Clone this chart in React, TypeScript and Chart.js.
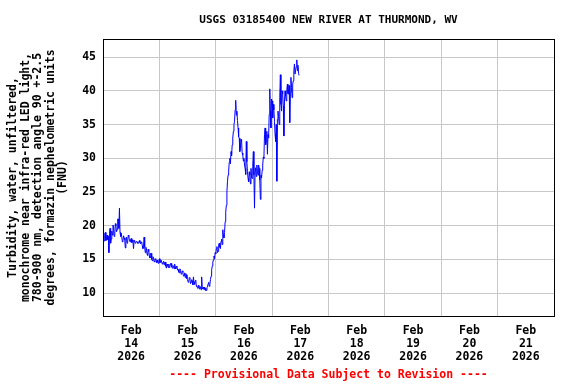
import React, { useEffect, useRef } from 'react';
import { Chart, registerables } from 'chart.js';

Chart.register(...registerables);

const TITLE = 'USGS 03185400 NEW RIVER AT THURMOND, WV';
const FOOTER = '---- Provisional Data Subject to Revision ----';
const Y_TITLE = [
  'Turbidity, water, unfiltered,',
  'monochrome near infra-red LED light,',
  '780-900 nm, detection angle 90 +-2.5',
  'degrees, formazin nephelometric units',
  '(FNU)',
];
const MONTH = 'Feb';
const YEAR = '2026';
const DAYS = ['14', '15', '16', '17', '18', '19', '20', '21'];
const Y_TICKS = [10, 15, 20, 25, 30, 35, 40, 45];
const STEP_HOURS = 0.25; // readings every 15 minutes from Feb 14 00:00

const TURBIDITY = [
  18.5, 17.6, 17.8, 18.9, 19.0, 17.8, 18.2, 18.6, 17.9, 18.4, 16.0, 18.8,
  19.6, 17.4, 18.0, 19.2, 18.6, 20.1, 19.8, 18.4, 18.6, 20.3, 20.0, 19.1,
  19.4, 21.0, 21.0, 19.6, 22.6, 19.0, 18.4, 18.9, 18.9, 17.6, 17.8, 18.5,
  18.2, 17.9, 16.7, 18.1, 18.3, 17.4, 17.7, 18.6, 18.4, 17.9, 17.6, 18.0,
  18.1, 17.5, 17.9, 17.6, 16.6, 17.8, 17.7, 17.4, 17.5, 17.7, 17.6, 17.4,
  17.4, 17.6, 17.8, 17.5, 17.3, 17.6, 17.5, 17.0, 16.6, 16.9, 18.3, 16.8,
  16.0, 16.8, 16.6, 15.8, 15.6, 16.5, 16.2, 15.5, 15.2, 15.9, 15.9, 15.0,
  14.8, 15.4, 15.3, 14.7, 14.6, 15.1, 15.0, 14.5, 14.9, 14.6, 14.4, 14.8,
  15.1, 14.5, 14.6, 14.9, 14.9, 14.3, 14.5, 14.7, 14.2, 14.6, 14.6, 14.0,
  13.7, 14.3, 14.1, 13.8, 14.3, 13.8, 13.9, 14.4, 14.4, 13.9, 13.7, 14.1,
  14.0, 13.6, 14.3, 13.9, 13.6, 14.0, 13.9, 13.4, 13.5, 13.1, 13.0, 13.6,
  13.4, 12.8, 12.9, 13.3, 13.1, 12.5, 12.6, 13.0, 12.3, 12.9, 12.7, 12.1,
  12.0, 11.6, 11.7, 12.3, 12.2, 11.4, 11.6, 12.0, 11.8, 11.2, 12.4, 11.6,
  11.3, 11.8, 11.9, 11.0, 11.1, 10.7, 10.8, 11.2, 10.6, 11.0, 10.9, 10.5,
  12.4, 10.8, 10.6, 10.9, 10.5, 10.9, 10.7, 10.4, 10.4, 10.8, 10.9, 11.4,
  11.6, 11.0, 11.3, 12.0, 12.5, 13.4, 14.0, 14.6, 14.9, 15.5, 15.1, 16.0,
  15.8, 16.6, 16.9, 16.0, 16.2, 17.2, 17.4, 16.8, 16.6, 17.7, 18.0, 17.2,
  19.4, 18.6, 18.2, 19.0, 20.6, 22.0, 23.0, 25.0, 26.6, 27.5, 28.1, 29.4,
  30.0, 29.2, 31.0, 30.4, 32.0, 33.0, 34.0, 35.0, 35.5, 37.2, 38.6, 36.4,
  37.0, 35.6, 34.5, 33.2, 33.0, 31.0, 31.5, 32.8, 32.5, 30.8, 30.5, 29.6,
  30.0, 29.0, 28.5, 27.6, 32.5, 29.5, 28.0, 27.0, 26.5, 28.0, 27.5, 26.2,
  28.5, 27.2, 27.0, 28.8, 31.0, 27.5, 22.6, 28.0, 28.6, 27.3, 29.0, 28.0,
  27.5, 29.0, 28.5, 26.8, 23.9, 27.5, 27.1, 28.2, 29.0, 30.2, 30.0, 33.5,
  34.5, 32.0, 32.5, 34.0, 30.6, 33.5, 33.0, 36.5, 40.3, 37.0, 34.5, 38.8,
  38.5, 36.0, 38.0, 37.2, 35.5, 33.6, 32.5, 35.0, 26.6, 35.8, 37.0, 36.2,
  35.0, 39.0, 42.4, 38.0, 37.0, 40.0, 39.5, 37.8, 33.3, 38.5, 40.0, 39.2,
  38.5, 40.2, 41.0, 39.6, 39.5, 40.8, 35.3, 39.8, 42.0, 40.5, 39.0, 41.0,
  41.5, 43.0, 44.0, 42.5, 42.5, 43.6, 44.6, 43.0, 43.8, 42.6, 42.3,
];

const FONT_FAMILY = '"DejaVu Sans Mono", "Liberation Mono", monospace';

const framePlugin = {
  id: 'usgsFrame',
  afterDraw(chart: any) {
    const { ctx, chartArea: a } = chart;
    ctx.save();
    ctx.strokeStyle = '#000000';
    ctx.lineWidth = 1;
    ctx.strokeRect(
      Math.round(a.left) + 0.5,
      Math.round(a.top) + 0.5,
      Math.round(a.right) - Math.round(a.left),
      Math.round(a.bottom) - Math.round(a.top)
    );
    const cx = (a.left + a.right) / 2;
    ctx.textAlign = 'center';
    ctx.textBaseline = 'middle';
    ctx.fillStyle = '#000000';
    ctx.font = `bold 11px ${FONT_FAMILY}`;
    ctx.fillText(TITLE, cx, 20);
    ctx.fillStyle = '#ff0000';
    ctx.font = `bold 11.5px ${FONT_FAMILY}`;
    ctx.fillText(FOOTER, cx, 375);
    ctx.restore();
  },
};

export default function App() {
  const ref = useRef<HTMLCanvasElement | null>(null);

  useEffect(() => {
    document.body.style.margin = '0';
    const canvas = ref.current;
    if (!canvas) return;
    const points = TURBIDITY.map((v, i) => ({ x: i * STEP_HOURS, y: v }));
    const chart = new Chart(canvas, {
      type: 'line',
      data: {
        datasets: [
          {
            data: points,
            borderColor: '#0000ff',
            borderWidth: 1,
            pointRadius: 0,
            tension: 0,
            fill: false,
          },
        ],
      },
      options: {
        animation: false,
        responsive: false,
        devicePixelRatio: 1,
        layout: { padding: { top: 39, right: 22, bottom: 0, left: 0 } },
        plugins: {
          legend: { display: false },
          tooltip: { enabled: false },
          title: { display: false },
        },
        scales: {
          x: {
            type: 'linear',
            min: 0,
            max: DAYS.length * 24,
            afterBuildTicks: (scale: any) => {
              const ticks = [];
              for (let h = 0; h <= DAYS.length * 24; h += 12) ticks.push({ value: h });
              scale.ticks = ticks;
            },
            afterFit: (scale: any) => {
              scale.height = 68;
            },
            grid: {
              color: (c: any) =>
                c.tick && c.tick.value % 24 === 0 ? '#c8c8c8' : 'rgba(0,0,0,0)',
              lineWidth: 1,
              drawTicks: false,
            },
            border: { display: false },
            ticks: {
              autoSkip: false,
              maxRotation: 0,
              minRotation: 0,
              padding: 9,
              color: '#000000',
              font: { family: FONT_FAMILY, weight: 'bold', size: 11.5, lineHeight: 1.12 },
              callback: (value: any) => {
                const v = Number(value);
                if (v % 24 !== 12) return '';
                const d = DAYS[Math.floor(v / 24)];
                return [MONTH, d, YEAR];
              },
            },
          },
          y: {
            type: 'linear',
            min: 6.6,
            max: 47.7,
            afterBuildTicks: (scale: any) => {
              scale.ticks = Y_TICKS.map((v) => ({ value: v }));
            },
            afterFit: (scale: any) => {
              scale.width = 103;
            },
            grid: { color: '#c8c8c8', lineWidth: 1, drawTicks: false },
            border: { display: false },
            ticks: {
              padding: 7,
              color: '#000000',
              font: { family: FONT_FAMILY, weight: 'bold', size: 11.5 },
              callback: (value: any) => String(value),
            },
            title: {
              display: true,
              text: Y_TITLE,
              color: '#000000',
              padding: { top: 6.75, bottom: 0 },
              font: { family: FONT_FAMILY, weight: 'bold', size: 11.5, lineHeight: 1.09 },
            },
          },
        },
      },
      plugins: [framePlugin],
    });
    return () => chart.destroy();
  }, []);

  return (
    <canvas
      ref={ref}
      width={576}
      height={384}
      style={{ display: 'block', width: '576px', height: '384px' }}
    />
  );
}
